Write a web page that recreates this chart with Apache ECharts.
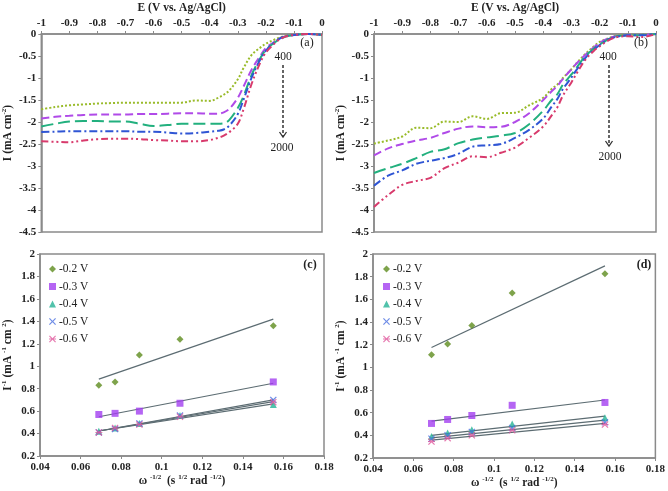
<!DOCTYPE html>
<html><head><meta charset="utf-8">
<script src="https://cdn.jsdelivr.net/npm/echarts@6/dist/echarts.min.js"></script>
<style>html,body{margin:0;padding:0;background:#fff}#c{width:668px;height:491px}</style>
</head><body><div id="c"></div>
<script>
// ---- Data: panels (a) and (b), potentials (V vs Ag/AgCl)
const E = [-1,-0.95,-0.9,-0.85,-0.8,-0.75,-0.7,-0.65,-0.6,-0.55,-0.5,-0.45,-0.4,-0.37,-0.35,-0.33,-0.3,-0.28,-0.25,-0.22,-0.2,-0.17,-0.15,-0.13,-0.1,-0.05,0];
const a400  = [-1.71,-1.66,-1.62,-1.60,-1.58,-1.57,-1.56,-1.56,-1.56,-1.56,-1.56,-1.51,-1.52,-1.45,-1.38,-1.28,-1.03,-0.78,-0.47,-0.31,-0.22,-0.13,-0.08,-0.04,-0.02,0,-0.02];
const a800  = [-1.92,-1.88,-1.86,-1.84,-1.83,-1.83,-1.83,-1.82,-1.82,-1.81,-1.80,-1.80,-1.81,-1.81,-1.78,-1.70,-1.45,-1.20,-0.80,-0.50,-0.32,-0.18,-0.10,-0.05,-0.02,0,-0.02];
const a1200 = [-2.10,-2.04,-1.99,-1.98,-1.98,-1.99,-1.99,-2.04,-2.09,-2.07,-2.04,-2.04,-2.04,-2.04,-2.03,-1.95,-1.68,-1.42,-0.92,-0.55,-0.36,-0.20,-0.12,-0.06,-0.02,0,-0.02];
const a1600 = [-2.23,-2.22,-2.21,-2.21,-2.21,-2.21,-2.21,-2.22,-2.22,-2.24,-2.26,-2.25,-2.22,-2.20,-2.17,-2.08,-1.82,-1.50,-0.98,-0.58,-0.38,-0.20,-0.10,-0.05,-0.02,0,-0.02];
const a2000 = [-2.44,-2.45,-2.46,-2.42,-2.39,-2.38,-2.38,-2.39,-2.41,-2.42,-2.44,-2.44,-2.41,-2.36,-2.31,-2.23,-2.04,-1.72,-1.12,-0.65,-0.42,-0.22,-0.12,-0.06,-0.02,0,-0.02];
const b400  = [-2.49,-2.42,-2.33,-2.13,-2.14,-1.99,-2.00,-1.87,-1.93,-1.80,-1.79,-1.62,-1.45,-1.25,-1.15,-1.00,-0.80,-0.65,-0.45,-0.28,-0.18,-0.10,-0.05,-0.03,-0.02,-0.02,0];
const b800  = [-2.76,-2.60,-2.50,-2.42,-2.36,-2.25,-2.15,-2.10,-2.12,-2.11,-2.00,-1.80,-1.50,-1.30,-1.18,-1.02,-0.80,-0.66,-0.47,-0.30,-0.20,-0.10,-0.06,-0.04,-0.02,-0.02,0];
const b1200 = [-3.16,-3.05,-2.95,-2.82,-2.68,-2.62,-2.48,-2.40,-2.35,-2.31,-2.25,-2.05,-1.74,-1.50,-1.37,-1.15,-0.92,-0.75,-0.50,-0.33,-0.24,-0.12,-0.07,-0.04,-0.03,-0.02,0];
const b1600 = [-3.45,-3.22,-3.10,-2.95,-2.88,-2.82,-2.72,-2.56,-2.53,-2.50,-2.36,-2.18,-1.92,-1.65,-1.48,-1.25,-0.99,-0.80,-0.54,-0.36,-0.25,-0.13,-0.08,-0.05,-0.03,-0.03,0];
const b2000 = [-3.93,-3.66,-3.43,-3.34,-3.27,-3.05,-2.92,-2.78,-2.80,-2.70,-2.58,-2.36,-2.10,-1.85,-1.67,-1.40,-1.10,-0.88,-0.58,-0.38,-0.28,-0.15,-0.09,-0.06,-0.05,-0.07,0];

// ---- Data: panels (c) and (d), Koutecky-Levich
const W = [0.069,0.077,0.089,0.109,0.155];
const FITX = [0.069,0.155];
const legendNames = ['-0.2 V','-0.3 V','-0.4 V','-0.5 V','-0.6 V'];
const c02 = [0.83,0.86,1.10,1.24,1.36];
const c03 = [0.57,0.58,0.60,0.67,0.86];
const c04 = [0.42,0.45,0.49,0.56,0.66];
const c05 = [0.41,0.44,0.49,0.56,0.70];
const c06 = [0.41,0.45,0.48,0.55,0.68];
const cFit02 = [0.885,1.42], cFit03 = [0.55,0.848], cFit04 = [0.423,0.665], cFit05 = [0.423,0.70], cFit06 = [0.423,0.685];
const d02 = [1.11,1.205,1.37,1.655,1.825];
const d03 = [0.505,0.54,0.575,0.665,0.69];
const d04 = [0.39,0.42,0.45,0.50,0.555];
const d05 = [0.37,0.40,0.43,0.465,0.515];
const d06 = [0.345,0.375,0.40,0.445,0.495];
const dFit02 = [1.175,1.895], dFit03 = [0.525,0.712], dFit04 = [0.40,0.57], dFit05 = [0.378,0.535], dFit06 = [0.357,0.505];

// ---- Styles
const SERIF = '"Liberation Serif","Times New Roman",serif';
const AX = '#8a8a8a';
const curveStyles = [
  {color:'#99bb2a', type:[2,2]},
  {color:'#b04ae8', type:[8,4]},
  {color:'#22b07e', type:[12,5]},
  {color:'#2f55d4', type:[8,3,2,3]},
  {color:'#d83a6c', type:[7,3,2,3,2,3]}
];
const X_PATH = 'path://M0,1.2L1.2,0L5,3.8L8.8,0L10,1.2L6.2,5L10,8.8L8.8,10L5,6.2L1.2,10L0,8.8L3.8,5Z';
const STAR_PATH = 'path://M0,1.2L1.2,0L5,3.8L8.8,0L10,1.2L6.2,5L10,8.8L8.8,10L5,6.2L1.2,10L0,8.8L3.8,5Z M0,4.3L10,4.3L10,5.7L0,5.7Z';
const markerStyles = [
  {symbol:'diamond', size:7, color:'#5e8c1e'},
  {symbol:'rect', size:7, color:'#a23ef0'},
  {symbol:'triangle', size:7, color:'#26b396'},
  {symbol:X_PATH, size:7, color:'#4a6fe0'},
  {symbol:STAR_PATH, size:7, color:'#e0589c'}
];

const zip = (xs, ys) => xs.map((x,i)=>[x, ys[i]]);
const tickLabel = {fontFamily:SERIF, fontWeight:'bold', fontSize:11, color:'#222'};
const nameStyle = () => ({fontFamily:SERIF, fontWeight:'bold', fontSize:11.5, color:'#222', lineHeight:14,
  rich:{s:{fontFamily:SERIF, fontWeight:'bold', fontSize:7, color:'#222', verticalAlign:'top', lineHeight:14}}});

const grids = [
  {left:40, top:33, width:282, height:199},
  {left:374, top:33, width:282, height:199},
  {left:39, top:254, width:285, height:202},
  {left:373, top:254, width:285, height:205}
].map(g => Object.assign({show:true, borderColor:AX, borderWidth:1.5, backgroundColor:'#fff'}, g));

const xAxes = [], yAxes = [];
for (let i=0;i<2;i++){
  xAxes.push({gridIndex:i, type:'value', min:-1, max:0, interval:0.1, position:'top',
    name:'E (V vs. Ag/AgCl)', nameLocation:'middle', nameGap:19, nameTextStyle:nameStyle(),
    axisLine:{onZero:false, lineStyle:{color:AX, width:1.5}}, axisTick:{length:3, lineStyle:{color:AX}},
    axisLabel:Object.assign({margin:5}, tickLabel), splitLine:{show:false}});
  yAxes.push({gridIndex:i, type:'value', min:-4.5, max:0, interval:0.5,
    name:'I (mA cm{s|-2})', nameLocation:'middle', nameGap:26, nameTextStyle:nameStyle(),
    axisLine:{onZero:false, lineStyle:{color:AX, width:1.5}}, axisTick:{length:3, lineStyle:{color:AX}},
    axisLabel:Object.assign({margin:5}, tickLabel), splitLine:{show:false}});
}
for (let i=2;i<4;i++){
  xAxes.push({gridIndex:i, type:'value', min:0.04, max:0.18, interval:0.02, position:'bottom',
    name:'ω {s|-1/2}  (s {s|1/2} rad {s|-1/2})', nameLocation:'middle', nameGap:18, nameTextStyle:nameStyle(),
    axisLine:{onZero:false, lineStyle:{color:AX, width:1.5}}, axisTick:{length:3, lineStyle:{color:AX}},
    axisLabel:Object.assign({margin:6}, tickLabel), splitLine:{show:false}});
  yAxes.push({gridIndex:i, type:'value', min:0.2, max:2, interval:0.2,
    name:'I{s|-1} (mA {s|-1} cm {s|2})', nameLocation:'middle', nameGap:25, nameTextStyle:nameStyle(),
    axisLine:{onZero:false, lineStyle:{color:AX, width:1.5}}, axisTick:{length:3, lineStyle:{color:AX}},
    axisLabel:Object.assign({margin:5}, tickLabel), splitLine:{show:false}});
}

const series = [];
[[a400,a800,a1200,a1600,a2000],[b400,b800,b1200,b1600,b2000]].forEach((set, gi) => {
  set.forEach((ys, k) => {
    series.push({type:'line', name:'curve'+gi+'_'+k, xAxisIndex:gi, yAxisIndex:gi, data:zip(E, ys),
      showSymbol:false, symbol:'none', smooth:0.35, z:2,
      lineStyle:{color:curveStyles[k].color, type:curveStyles[k].type, width:2}});
  });
});
const kl = [
  {pts:[c02,c03,c04,c05,c06], fits:[cFit02,cFit03,cFit04,cFit05,cFit06]},
  {pts:[d02,d03,d04,d05,d06], fits:[dFit02,dFit03,dFit04,dFit05,dFit06]}
];
kl.forEach((panel, p) => {
  const gi = p + 2;
  panel.fits.forEach((f, k) => {
    series.push({type:'line', name:'fit'+p+'_'+k, xAxisIndex:gi, yAxisIndex:gi, data:zip(FITX, f),
      symbol:'none', z:2, lineStyle:{color:'#5c6c72', width:1.2}});
  });
  panel.pts.forEach((ys, k) => {
    const m = markerStyles[k];
    series.push({type:'scatter', name:legendNames[k], xAxisIndex:gi, yAxisIndex:gi, data:zip(W, ys),
      symbol:m.symbol, symbolSize:m.size, z:3, itemStyle:{color:m.color}});
  });
});

const legendCommon = {orient:'vertical', data:legendNames, itemWidth:7, itemHeight:7, itemGap:5.5,
  selectedMode:false, textStyle:{fontFamily:SERIF, fontSize:11.5, color:'#222', lineHeight:12, padding:[0,0,0,-2]}};

const T = (x, y, text, opts) => ({type:'text', x, y, style:Object.assign({text, fontFamily:SERIF, fontSize:11.5,
  fill:'#222', align:'center', verticalAlign:'middle'}, opts||{}), z:10});
const arrow = (x, y1, y2) => ([
  {type:'line', shape:{x1:x, y1:y1, x2:x, y2:y2}, style:{stroke:'#333', lineWidth:1.5, lineDash:[3,2]}, z:10},
  {type:'polyline', shape:{points:[[x-3.5,y2-5],[x,y2],[x+3.5,y2-5]]}, style:{stroke:'#333', lineWidth:1.3, fill:null}, z:10}
]);

const option = {
  animation:false,
  backgroundColor:'#fff',
  grid:grids, xAxis:xAxes, yAxis:yAxes, series,
  legend:[
    Object.assign({left:44, top:258}, legendCommon),
    Object.assign({left:378, top:258}, legendCommon)
  ],
  graphic:[
    T(307, 43, '(a)', {fontSize:12}), T(283, 57, '400'), T(282, 148, '2000'),
    ...arrow(283, 65, 137),
    T(641, 43, '(b)', {fontSize:12}), T(608, 57, '400'), T(610, 157, '2000'),
    ...arrow(609, 65, 146),
    T(310, 265, '(c)', {fontWeight:'bold', fontSize:12}),
    T(644, 265, '(d)', {fontWeight:'bold', fontSize:12})
  ]
};
const chart = echarts.init(document.getElementById('c'), null, {renderer:'canvas'});
chart.setOption(option);
</script>
</body></html>
